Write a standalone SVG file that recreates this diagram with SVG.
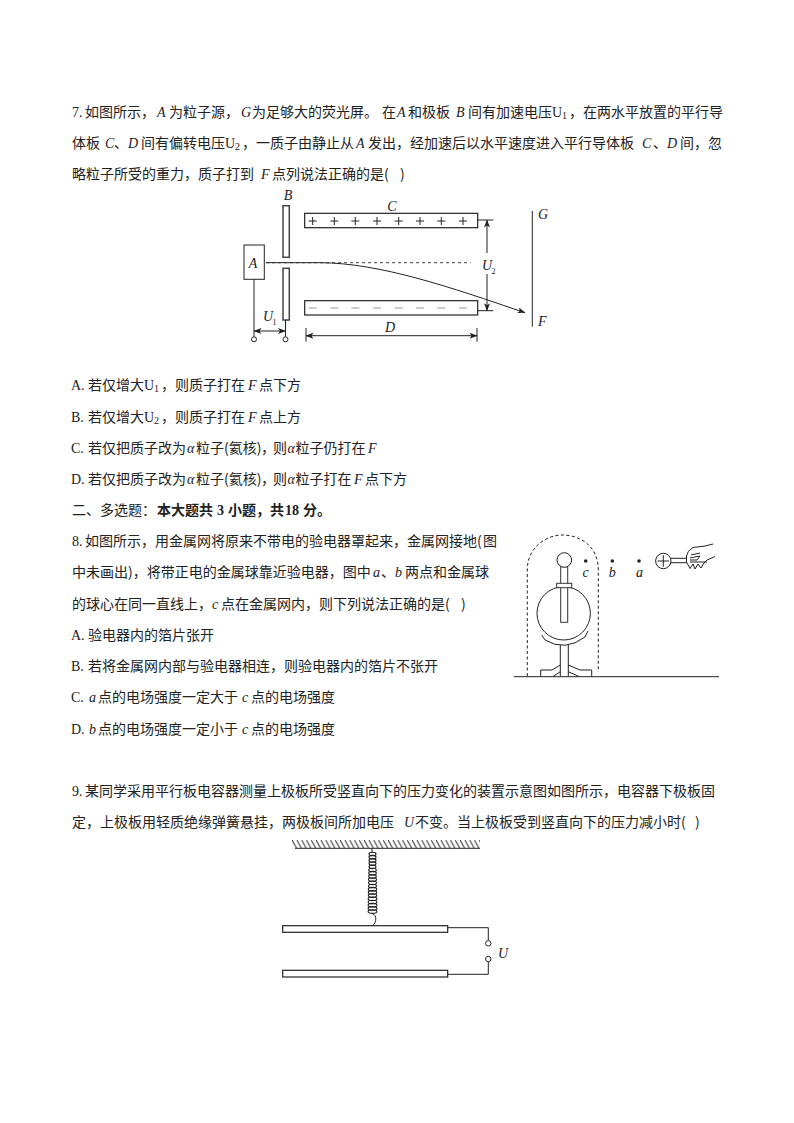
<svg xmlns="http://www.w3.org/2000/svg" width="794" height="1123" viewBox="0 0 794 1123">
<defs>
<style>
text{font-family:"Noto Sans CJK SC",sans-serif;font-size:14px;fill:#222}
.m,.m tspan{font-family:"Liberation Serif",serif;font-style:italic}
.n{font-family:"Liberation Serif",serif}
.s{font-family:"Liberation Serif",serif;font-size:8px}
.b{font-weight:700}
.l{font-family:"Liberation Serif",serif;font-style:italic;font-size:14px;text-anchor:middle}
.ln{fill:none;stroke:#222;stroke-width:1}
.pl{fill:#fff;stroke:#222;stroke-width:1.2}
.gp{fill:#fff;stroke:#444;stroke-width:1.5}
.ring{fill:#fff;stroke:#222;stroke-width:1}
.coil{fill:none;stroke:#222;stroke-width:1.100}
</style>
<marker id="ah" viewBox="0 0 8 6" refX="7.500" refY="3" markerWidth="8" markerHeight="6" orient="auto-start-reverse" markerUnits="userSpaceOnUse"><path d="M0 0L8 3L0 6L2 3Z" fill="#222"/></marker>
<pattern id="hatch" width="4.800" height="8.500" patternUnits="userSpaceOnUse" x="292" y="840"><path d="M0 0L4.800 8.500" stroke="#222" stroke-width="1" fill="none"/></pattern>
</defs>
<rect width="794" height="1123" fill="#fff"/>

<g id="q7-text">
<text y="117"><tspan class="n" x="72">7.</tspan><tspan x="85">如图所示，</tspan><tspan class="m" x="157">A</tspan><tspan x="169">为粒子源，</tspan><tspan class="m" x="241">G</tspan><tspan x="252">为足够大的荧光屏。</tspan><tspan x="382">在</tspan><tspan class="m" x="397">A</tspan><tspan x="408">和极板</tspan><tspan class="m" x="456">B</tspan><tspan x="468">间有加速电压</tspan><tspan class="n" x="552">U</tspan><tspan class="n" x="562" dy="2" font-size="10">1</tspan><tspan x="569" dy="-2">，在两水平放置的平行导</tspan></text>
<text y="148"><tspan x="72">体板</tspan><tspan class="m" x="105">C</tspan><tspan x="114">、</tspan><tspan class="m" x="128">D</tspan><tspan x="141">间有偏转电压</tspan><tspan class="n" x="225">U</tspan><tspan class="n" x="235" dy="2" font-size="10">2</tspan><tspan x="242" dy="-2">，一质子由静止从</tspan><tspan class="m" x="356">A</tspan><tspan x="368">发出，经加速后以水平速度进入平行导体板</tspan><tspan class="m" x="642">C</tspan><tspan x="653">、</tspan><tspan class="m" x="667">D</tspan><tspan x="680">间，忽</tspan></text>
<text y="179"><tspan x="72">略粒子所受的重力，质子打到</tspan><tspan class="m" x="261">F</tspan><tspan x="272">点列说法正确的是(</tspan><tspan x="400">)</tspan></text>
</g>

<g id="q7-figure">
<rect class="ln" x="244" y="245" width="20.300" height="34.300"/>
<rect class="gp" x="283" y="205.700" width="6.300" height="51.600"/>
<rect class="gp" x="283" y="268.300" width="6.300" height="51.700"/>
<path class="ln" d="M254 279.300V336.800M285.500 320V336.800"/>
<circle class="ring" cx="254" cy="339.300" r="2.500"/>
<circle class="ring" cx="285.500" cy="339.300" r="2.500"/>
<rect class="pl" x="304.700" y="213.300" width="173" height="14.400"/>
<rect class="pl" x="304.700" y="300.700" width="173" height="14.300"/>
<path class="ln" d="M308.700 221h8M330.300 221h8M351.300 221h8M373 221h8M394.700 221h8M416 221h8M437.300 221h8M459 221h8M312.700 217v8M334.300 217v8M355.300 217v8M377 217v8M398.700 217v8M420 217v8M441.300 217v8M463 217v8"/>
<path d="M308.700 308h8M330.300 308h8M351.300 308h8M373 308h8M394.700 308h8M416 308h8M437.300 308h8M459 308h8" fill="none" stroke="#999" stroke-width="1.200"/>
<path d="M266 262.700H470.700" fill="none" stroke="#444" stroke-width="1" stroke-dasharray="3 3"/>
<path class="ln" d="M532.300 211V326.700"/>
<path class="ln" d="M477.700 220H493.300M477.700 310.700H493.300M306 328V341.700M477 328V341.700"/>
<path class="ln" marker-start="url(#ah)" d="M487 220V253"/>
<path class="ln" marker-end="url(#ah)" d="M487 274V310.700"/>
<path class="ln" marker-start="url(#ah)" marker-end="url(#ah)" d="M254 331H285.500"/>
<path class="ln" marker-start="url(#ah)" marker-end="url(#ah)" d="M306 335.700H477"/>
<path class="ln" marker-end="url(#ah)" d="M266 262.700H320C380 263 450 287 525 312.700"/>
<text class="l" x="253" y="268">A</text>
<text class="l" x="288" y="200">B</text>
<text class="l" x="392" y="211">C</text>
<text class="l" x="390" y="332">D</text>
<text class="m" x="538" y="219">G</text>
<text class="m" x="538" y="326">F</text>
<text class="m" x="263" y="321">U</text><text class="s" x="272.500" y="325">1</text>
<text class="m" x="482" y="270">U</text><text class="s" x="491.500" y="274">2</text>
</g>

<g id="q7-options">
<text y="390"><tspan class="n" x="71">A.</tspan><tspan x="88">若仅增大</tspan><tspan class="n" x="144">U</tspan><tspan class="n" x="154" dy="2" font-size="10">1</tspan><tspan x="161" dy="-2">，则质子打在</tspan><tspan class="m" x="248">F</tspan><tspan x="259">点下方</tspan></text>
<text y="422"><tspan class="n" x="71">B.</tspan><tspan x="88">若仅增大</tspan><tspan class="n" x="144">U</tspan><tspan class="n" x="154" dy="2" font-size="10">2</tspan><tspan x="161" dy="-2">，则质子打在</tspan><tspan class="m" x="248">F</tspan><tspan x="259">点上方</tspan></text>
<text y="453"><tspan class="n" x="71">C.</tspan><tspan x="88">若仅把质子改为</tspan><tspan class="m" x="187">α</tspan><tspan x="196">粒子(氦核)</tspan><tspan x="261">，</tspan><tspan x="273">则</tspan><tspan class="m" x="287.500">α</tspan><tspan x="295.500">粒子仍打在</tspan><tspan class="m" x="368">F</tspan></text>
<text y="484"><tspan class="n" x="71">D.</tspan><tspan x="88">若仅把质子改为</tspan><tspan class="m" x="187">α</tspan><tspan x="196">粒子(氦核)</tspan><tspan x="261">，</tspan><tspan x="273">则</tspan><tspan class="m" x="287.500">α</tspan><tspan x="295.500">粒子打在</tspan><tspan class="m" x="354">F</tspan><tspan x="365">点下方</tspan></text>
<text y="515"><tspan x="72">二、多选题：</tspan><tspan class="b" x="157">本大题共</tspan><tspan class="n b" x="217">3</tspan><tspan class="b" x="228">小题，共</tspan><tspan class="n b" x="285">18</tspan><tspan class="b" x="303">分。</tspan></text>
</g>

<g id="q8-text">
<text y="546"><tspan class="n" x="72">8.</tspan><tspan x="85">如图所示，用金属网将原来不带电的验电器罩起来，金属网接地(</tspan><tspan x="483">图</tspan></text>
<text y="577"><tspan x="72">中未画出)，将带正电的金属球靠近验电器，图中</tspan><tspan class="m" x="373">a</tspan><tspan x="381">、</tspan><tspan class="m" x="395">b</tspan><tspan x="405">两点和金属球</tspan></text>
<text y="609"><tspan x="72">的球心在同一直线上，</tspan><tspan class="m" x="212">c</tspan><tspan x="221">点在金属网内，则下列说法正确的是(</tspan><tspan x="461">)</tspan></text>
<text y="640"><tspan class="n" x="71">A.</tspan><tspan x="88">验电器内的箔片张开</tspan></text>
<text y="671"><tspan class="n" x="71">B.</tspan><tspan x="88">若将金属网内部与验电器相连，则验电器内的箔片不张开</tspan></text>
<text y="702"><tspan class="n" x="71">C.</tspan><tspan class="m" x="89">a</tspan><tspan x="98">点的电场强度一定大于</tspan><tspan class="m" x="242">c</tspan><tspan x="251">点的电场强度</tspan></text>
<text y="734"><tspan class="n" x="71">D.</tspan><tspan class="m" x="89">b</tspan><tspan x="98">点的电场强度一定小于</tspan><tspan class="m" x="242">c</tspan><tspan x="251">点的电场强度</tspan></text>
</g>

<g id="q8-figure">
<path class="ln" d="M514 676.700H719"/>
<path d="M527.300 676V570C527.300 546 548 535 562 535C580 535 598.300 546 598.300 570V672" fill="none" stroke="#222" stroke-dasharray="3 2.500"/>
<circle class="ln" cx="563.700" cy="613.300" r="26.700"/>
<rect x="560.700" y="566.700" width="7" height="55.600" fill="#fff" stroke="#333"/>
<rect x="556.700" y="583.300" width="15" height="4.400" fill="#fff" stroke="#333"/>
<circle class="ring" cx="564.300" cy="560" r="7.300"/>
<path class="ln" d="M541.700 635L545 640Q565 652 585 637L588 631M560.300 645V676M568.300 645V676M540.700 676.500V670H552L560.300 665M553 676.500L560.300 671.700M568.300 665L580 670H591.700V676.500M568.300 671.700L579 676.500"/>
<circle cx="585.700" cy="561" r="1.800" fill="#222"/>
<circle cx="612.300" cy="561" r="1.800" fill="#222"/>
<circle cx="639" cy="561" r="1.800" fill="#222"/>
<text class="l" x="585.700" y="577">c</text>
<text class="l" x="612.300" y="577">b</text>
<text class="l" x="639.500" y="577">a</text>
<circle class="ln" cx="663.300" cy="561" r="7.700"/>
<path class="ln" d="M657.500 561H669.200M663.300 555.200V566.800M671 558.300H686.700M671 562.700H686.700"/>
<path class="ln" d="M713 544L705 546L693 547.500Q687 551 686.500 556V562L690 568.500L693 564L695 569L698 564L701 568L704 563L707 560L715 556.500M691 555L700 553M690 558L700 556L697 560H690M690 562H707"/>
</g>

<g id="q9-text">
<text y="796"><tspan class="n" x="72">9.</tspan><tspan x="85">某同学采用平行板电容器测量上极板所受竖直向下的压力变化的装置示意图如图所示，电容器下极板固</tspan></text>
<text y="827"><tspan x="72">定，上极板用轻质绝缘弹簧悬挂，两极板间所加电压</tspan><tspan class="m" x="404">U</tspan><tspan x="415">不变。当上极板受到竖直向下的压力减小时(</tspan><tspan x="695">)</tspan></text>
</g>

<g id="q9-figure">
<rect x="292" y="840" width="188" height="8.300" fill="url(#hatch)"/>
<path class="ln" d="M295 848.300H480M372 848.300V853"/>
<g class="coil">
<ellipse cx="372.500" cy="854" rx="3.500" ry="1.800"/><ellipse cx="372.500" cy="857.200" rx="3.500" ry="1.800"/><ellipse cx="372.500" cy="860.400" rx="3.500" ry="1.800"/><ellipse cx="372.500" cy="863.600" rx="3.500" ry="1.800"/><ellipse cx="372.500" cy="866.800" rx="3.500" ry="1.800"/><ellipse cx="372.500" cy="870" rx="3.800" ry="1.800"/><ellipse cx="372.500" cy="873.200" rx="3.800" ry="1.800"/><ellipse cx="372.500" cy="876.400" rx="3.800" ry="1.800"/><ellipse cx="372.500" cy="879.600" rx="4" ry="1.800"/><ellipse cx="372.500" cy="882.800" rx="4" ry="1.800"/><ellipse cx="372.500" cy="886" rx="4" ry="1.800"/><ellipse cx="372.500" cy="889.200" rx="4.200" ry="1.800"/><ellipse cx="372.500" cy="892.400" rx="4.200" ry="1.800"/><ellipse cx="372.500" cy="895.600" rx="4.200" ry="1.800"/><ellipse cx="372.500" cy="898.800" rx="4.400" ry="1.800"/><ellipse cx="372.500" cy="902" rx="4.400" ry="1.800"/><ellipse cx="372.500" cy="905.200" rx="4.400" ry="1.800"/><ellipse cx="372.500" cy="908.400" rx="4.400" ry="1.800"/><ellipse cx="372.500" cy="911.600" rx="4.400" ry="1.800"/>
</g>
<path class="ln" d="M372 913.500C377 915 377 922 372.500 925.700"/>
<rect class="pl" x="282.700" y="925.700" width="165" height="6.600"/>
<rect class="pl" x="282.700" y="970.300" width="165" height="6.700"/>
<path class="ln" d="M447.700 927.700H488.300V940.600M488.300 961.700V974.300H447.700"/>
<circle class="ring" cx="488.300" cy="943.300" r="2.700"/>
<circle class="ring" cx="488.300" cy="959" r="2.700"/>
<text class="m" x="498" y="958">U</text>
</g>
</svg>
